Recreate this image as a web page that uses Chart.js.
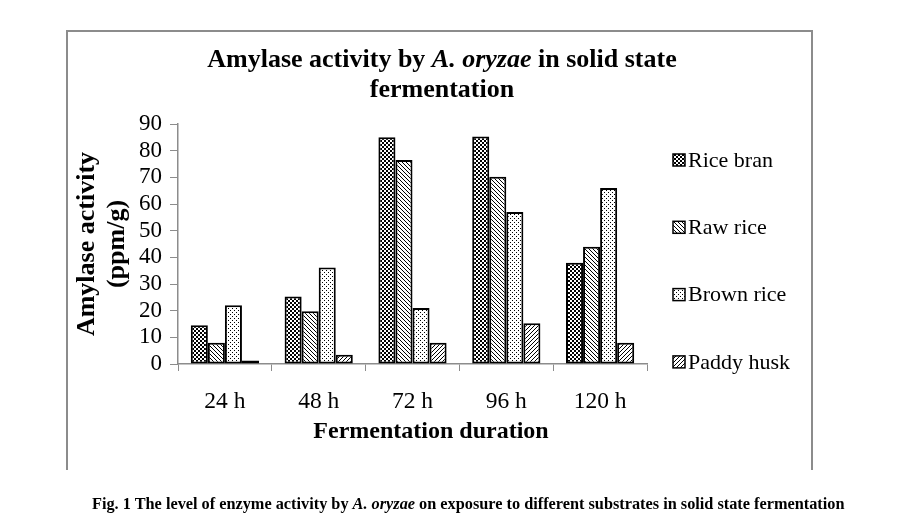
<!DOCTYPE html>
<html>
<head>
<meta charset="utf-8">
<script src="https://cdn.jsdelivr.net/npm/chart.js@4.4.1/dist/chart.umd.min.js"></script>
<style>
  html, body { margin:0; padding:0; background:#fff; }
  #wrap { position:relative; width:899px; height:531px; overflow:hidden; font-family:"Liberation Serif","Times New Roman",serif; }
  #frame { position:absolute; left:66px; top:30px; width:747px; height:440px; border:2px solid #8c8c8c; border-bottom:none; box-sizing:border-box; }
  #c { position:absolute; left:0; top:0; }
  #title { position:absolute; left:0; width:884px; top:44px; text-align:center; font-weight:bold; font-size:26px; line-height:30px; color:#000; }
  #title span { display:inline-block; white-space:nowrap; }
  #xtitle { position:absolute; left:0; width:862px; top:415px; text-align:center; font-weight:bold; font-size:24px; line-height:30px; color:#000; white-space:nowrap; }
  #caption { position:absolute; left:92px; top:494px; font-weight:bold; font-size:16.3px; color:#000; white-space:nowrap; }
</style>
</head>
<body>
<div id="wrap">
  <div id="frame"></div>
  <canvas id="c" width="899" height="531"></canvas>
  <div id="title"><span>Amylase activity by <i>A. oryzae</i> in solid state</span><br><span>fermentation</span></div>
  <div id="xtitle">Fermentation duration</div>
  <div id="caption">Fig. 1 The level of enzyme activity by <i>A. oryzae</i> on exposure to different substrates in solid state fermentation</div>
</div>
<script>
// ---- data ----
const categories = ["24 h", "48 h", "72 h", "96 h", "120 h"];
const seriesNames = ["Rice bran", "Raw rice", "Brown rice", "Paddy husk"];
const riceBran  = [14.5, 25.3, 85.0, 85.3, 38.0];
const rawRice   = [8.0, 19.8, 76.5, 70.2, 44.0];
const brownRice = [22.0, 36.2, 21.0, 57.0, 66.0];
const paddyHusk = [1.3, 3.5, 8.0, 15.3, 8.0];
const yTicks = [0, 10, 20, 30, 40, 50, 60, 70, 80, 90];

// ---- patterns ----
function makePattern(size, pixels) {
  const pc = document.createElement('canvas');
  pc.width = size; pc.height = size;
  const g = pc.getContext('2d');
  g.fillStyle = '#fff'; g.fillRect(0, 0, size, size);
  g.fillStyle = '#000';
  pixels.forEach(p => g.fillRect(p[0], p[1], 1, 1));
  return document.getElementById('c').getContext('2d').createPattern(pc, 'repeat');
}
const patChecker = makePattern(4, [[0,0],[1,0],[0,1],[1,1],[2,2],[3,2],[2,3],[3,3]]);
const patBack = makePattern(4, [[0,0],[1,1],[2,2],[3,3]]);
const patDots = makePattern(4, [[0,0],[2,2]]);
const patFwd = makePattern(4, [[3,0],[2,1],[1,2],[0,3]]);

const seriesValues = [riceBran, rawRice, brownRice, paddyHusk];
const patterns = [patChecker, patBack, patDots, patFwd];

const datasets = seriesNames.map((name, i) => ({
  label: name,
  data: seriesValues[i],
  backgroundColor: patterns[i],
  borderColor: '#000',
  borderWidth: 2,
  borderSkipped: false,
  categoryPercentage: 0.727,
  barPercentage: 1.0
}));

const legendPlugin = {
  id: 'sideLegend',
  afterDraw(chart) {
    const ctx = chart.ctx;
    ctx.save();
    ctx.font = '22px "Liberation Serif", serif';
    ctx.textBaseline = 'middle';
    ctx.textAlign = 'left';
    chart.data.datasets.forEach((ds, i) => {
      const y = 160 + i * 67.3;
      ctx.fillStyle = ds.backgroundColor;
      ctx.fillRect(673, y - 6, 12, 12);
      ctx.strokeStyle = '#000';
      ctx.lineWidth = 1.5;
      ctx.strokeRect(673, y - 6, 12, 12);
      ctx.fillStyle = '#000';
      ctx.fillText(ds.label, 688, y + 1);
    });
    ctx.restore();
  }
};

new Chart(document.getElementById('c'), {
  type: 'bar',
  data: { labels: categories, datasets },
  options: {
    responsive: false,
    animation: false,
    devicePixelRatio: 1,
    layout: { padding: { left: 0, top: 124, right: 252, bottom: 0 } },
    plugins: { legend: { display: false }, tooltip: { enabled: false }, title: { display: false } },
    scales: {
      x: {
        grid: { display: true, drawOnChartArea: false, drawTicks: true, tickLength: 7, color: '#8c8c8c', offset: true },
        border: { color: '#8c8c8c', width: 1.5 },
        ticks: { color: '#000', font: { family: '"Liberation Serif", serif', size: 23.5 }, padding: 17, maxRotation: 0 },
        afterFit(s) { s.height = 167; }
      },
      y: {
        min: 0, max: 90,
        afterBuildTicks(s) { s.ticks = yTicks.map(v => ({ value: v })); },
        grid: { display: true, drawOnChartArea: false, drawTicks: true, tickLength: 8, color: '#8c8c8c' },
        border: { color: '#8c8c8c', width: 1.5 },
        ticks: { color: '#000', font: { family: '"Liberation Serif", serif', size: 23 }, padding: 8, autoSkip: false },
        title: { display: true, text: ['Amylase activity', '(ppm/g)'], color: '#000',
                 font: { family: '"Liberation Serif", serif', size: 26, weight: 'bold', lineHeight: 1.15 }, padding: { top: 72, bottom: 0 } },
        afterFit(s) { s.width = 178; }
      }
    }
  },
  plugins: [legendPlugin]
});
</script>
</body>
</html>
